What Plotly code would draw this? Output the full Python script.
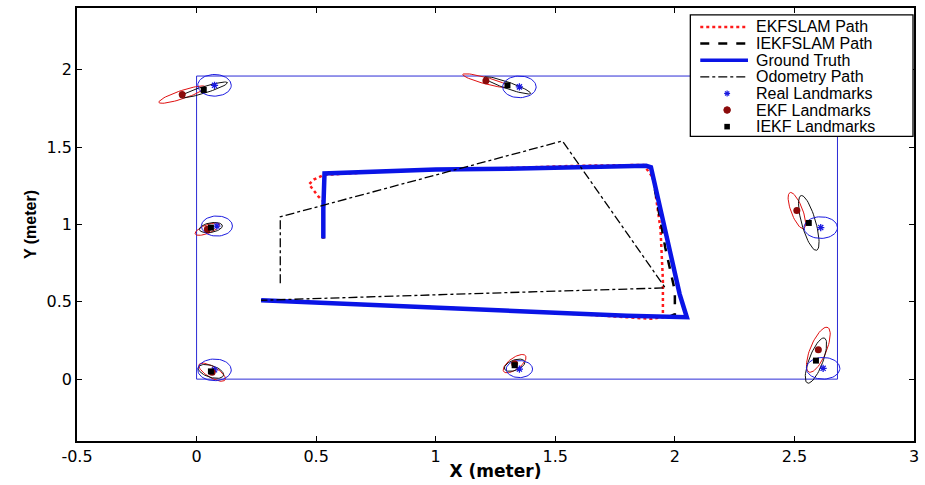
import numpy as np
import plotly.graph_objects as go

# ---- robot trajectories (meters) ----
gt_x = [0.53, 0.53, 0.535, 0.80, 1.00, 1.30, 1.60, 1.88, 1.90, 1.96, 2.02, 2.05, 1.80, 1.50, 1.20, 1.00, 0.70, 0.45, 0.27]
gt_y = [0.91, 1.10, 1.33, 1.345, 1.355, 1.36, 1.37, 1.38, 1.37, 0.95, 0.55, 0.40, 0.41, 0.43, 0.45, 0.465, 0.48, 0.50, 0.51]

ekf_x = [0.53, 0.53, 0.51, 0.47, 0.49, 0.53, 0.80, 1.00, 1.30, 1.60, 1.87, 1.91, 1.94, 1.95, 1.95, 1.90, 1.50, 1.20, 1.00, 0.70, 0.45, 0.27]
ekf_y = [0.91, 1.15, 1.18, 1.26, 1.29, 1.32, 1.345, 1.355, 1.365, 1.38, 1.385, 1.30, 0.97, 0.64, 0.40, 0.39, 0.43, 0.45, 0.465, 0.48, 0.50, 0.51]

iekf_x = [0.53, 0.53, 0.535, 0.80, 1.00, 1.30, 1.60, 1.88, 1.90, 1.96, 2.00, 2.00, 1.97, 1.50, 1.20, 1.00, 0.70, 0.45, 0.27]
iekf_y = [0.91, 1.10, 1.33, 1.345, 1.355, 1.36, 1.37, 1.38, 1.37, 0.85, 0.57, 0.42, 0.40, 0.43, 0.45, 0.465, 0.48, 0.50, 0.51]

odo_x = [0.35, 0.35, 1.53, 1.96, 1.20, 0.27]
odo_y = [0.62, 1.05, 1.54, 0.59, 0.555, 0.51]

# ---- arena boundary ----
arena_x = [0.0, 2.68, 2.68, 0.0, 0.0]
arena_y = [0.0, 0.0, 1.96, 1.96, 0.0]

# ---- landmarks ----
real_lx = [0.075, 1.35, 2.61, 2.62, 0.075, 1.35, 0.085]
real_ly = [1.90, 1.89, 0.98, 0.07, 0.06, 0.065, 0.99]
real_r = [0.07, 0.07, 0.07, 0.07, 0.07, 0.055, 0.065]

ekf_lx = [-0.06, 1.21, 2.51, 2.60, 0.065, 1.33, 0.045]
ekf_ly = [1.84, 1.93, 1.09, 0.19, 0.045, 0.10, 0.97]
ekf_a = [0.11, 0.105, 0.12, 0.15, 0.075, 0.07, 0.06]
ekf_b = [0.025, 0.02, 0.025, 0.035, 0.03, 0.03, 0.025]
ekf_ang = [28, -23, 103, 76, -47, 54, 35]

iekf_lx = [0.03, 1.30, 2.56, 2.59, 0.06, 1.33, 0.06]
iekf_ly = [1.87, 1.90, 1.01, 0.12, 0.05, 0.09, 0.98]
iekf_a = [0.11, 0.11, 0.18, 0.15, 0.06, 0.05, 0.05]
iekf_b = [0.02, 0.02, 0.03, 0.03, 0.035, 0.03, 0.03]
iekf_ang = [26, -29, 100, 77, -35, 40, 20]

x_ticks = [-0.5, 0, 0.5, 1, 1.5, 2, 2.5, 3]
x_tick_text = ["-0.5", "0", "0.5", "1", "1.5", "2", "2.5", "3"]
y_ticks = [0, 0.5, 1, 1.5, 2]
y_tick_text = ["0", "0.5", "1", "1.5", "2"]

legend_names = ["EKFSLAM Path", "IEKFSLAM Path", "Ground Truth", "Odometry Path",
                "Real Landmarks", "EKF Landmarks", "IEKF Landmarks"]

# ---- styles ----
BLUE = "#0a14e6"
EKF_LINE = dict(color="#ff1a1a", width=2.5, dash="dot")
IEKF_LINE = dict(color="black", width=2.5, dash="dash")
GT_LINE = dict(color=BLUE, width=4.5)
ODO_LINE = dict(color="black", width=1.3, dash="dashdot")
REAL_COLOR = "#1a1ae0"
EKF_MARK = "#8b0a0a"

# ---- figure geometry ----
W, H = 925, 485
ML, MR, MT, MB = 77, 6, 6, 44
PW, PH = W - ML - MR, H - MT - MB


def px_x(px):
    return (px - ML) / PW


def px_y(py):
    return (H - MB - py) / PH


def ellipse(cx, cy, a, b, ang_deg, n=60):
    t = np.linspace(0, 2 * np.pi, n)
    th = np.deg2rad(ang_deg)
    ex = a * np.cos(t)
    ey = b * np.sin(t)
    return cx + ex * np.cos(th) - ey * np.sin(th), cy + ex * np.sin(th) + ey * np.cos(th)


def ellipse_group(cxs, cys, As, Bs, angs):
    xs, ys = [], []
    for cx, cy, a, b, g in zip(cxs, cys, As, Bs, angs):
        ex, ey = ellipse(cx, cy, a, b, g)
        xs += list(ex) + [None]
        ys += list(ey) + [None]
    return xs, ys


fig = go.Figure()

# arena rectangle
fig.add_trace(go.Scatter(x=arena_x, y=arena_y, mode="lines",
                         line=dict(color="#2b2bd6", width=1), hoverinfo="skip"))

# covariance ellipses
ex, ey = ellipse_group(ekf_lx, ekf_ly, ekf_a, ekf_b, ekf_ang)
fig.add_trace(go.Scatter(x=ex, y=ey, mode="lines", line=dict(color="#e01010", width=1),
                         hoverinfo="skip"))
ix, iy = ellipse_group(iekf_lx, iekf_ly, iekf_a, iekf_b, iekf_ang)
fig.add_trace(go.Scatter(x=ix, y=iy, mode="lines", line=dict(color="#111111", width=1),
                         hoverinfo="skip"))
rx, ry = ellipse_group(real_lx, real_ly, real_r, real_r, [0] * len(real_r))
fig.add_trace(go.Scatter(x=rx, y=ry, mode="lines", line=dict(color=REAL_COLOR, width=1),
                         hoverinfo="skip"))

# paths
fig.add_trace(go.Scatter(x=ekf_x, y=ekf_y, mode="lines", name=legend_names[0], line=EKF_LINE))
fig.add_trace(go.Scatter(x=iekf_x, y=iekf_y, mode="lines", name=legend_names[1], line=IEKF_LINE))
fig.add_trace(go.Scatter(x=gt_x, y=gt_y, mode="lines", name=legend_names[2], line=GT_LINE))
fig.add_trace(go.Scatter(x=odo_x, y=odo_y, mode="lines", name=legend_names[3], line=ODO_LINE))

# landmark estimates
fig.add_trace(go.Scatter(x=real_lx, y=real_ly, mode="markers", name=legend_names[4],
                         marker=dict(symbol="asterisk-open", size=6, color=REAL_COLOR,
                                     line=dict(color=REAL_COLOR, width=1.3))))
fig.add_trace(go.Scatter(x=ekf_lx, y=ekf_ly, mode="markers", name=legend_names[5],
                         marker=dict(symbol="circle", size=7, color=EKF_MARK)))
fig.add_trace(go.Scatter(x=iekf_lx, y=iekf_ly, mode="markers", name=legend_names[6],
                         marker=dict(symbol="square", size=6, color="black")))

# ---- boxed legend in the upper-right corner ----
shapes = []
annotations = []
box_l, box_r, box_t, box_b = 694, 918, 13, 135
shapes.append(dict(type="rect", xref="paper", yref="paper",
                   x0=px_x(box_l), x1=px_x(box_r), y0=px_y(box_b), y1=px_y(box_t),
                   fillcolor="white", line=dict(color="black", width=1.3), layer="above"))
row0, row_step = 25, 16.7
key_l, key_r, key_c, text_x = 704, 752, 731, 758
line_styles = [EKF_LINE, IEKF_LINE, GT_LINE, ODO_LINE]
for i, name in enumerate(legend_names):
    ry_px = row0 + i * row_step
    yc = px_y(ry_px)
    if i < 4:
        st = line_styles[i]
        shapes.append(dict(type="line", xref="paper", yref="paper",
                           x0=px_x(key_l), x1=px_x(key_r), y0=yc, y1=yc,
                           line=dict(color=st["color"], width=min(st["width"], 3.5),
                                     dash=st.get("dash", "solid")),
                           layer="above"))
    elif i == 4:
        d = 3.0
        for dx, dy in [(d, 0), (0, d), (0.7 * d, 0.7 * d), (0.7 * d, -0.7 * d)]:
            shapes.append(dict(type="line", xref="paper", yref="paper",
                               x0=px_x(key_c - dx), x1=px_x(key_c + dx),
                               y0=px_y(ry_px - dy), y1=px_y(ry_px + dy),
                               line=dict(color=REAL_COLOR, width=1.2), layer="above"))
    elif i == 5:
        r = 3.3
        shapes.append(dict(type="circle", xref="paper", yref="paper",
                           x0=px_x(key_c - r), x1=px_x(key_c + r),
                           y0=px_y(ry_px + r), y1=px_y(ry_px - r),
                           fillcolor=EKF_MARK, line=dict(color=EKF_MARK, width=1), layer="above"))
    else:
        r = 2.8
        shapes.append(dict(type="rect", xref="paper", yref="paper",
                           x0=px_x(key_c - r), x1=px_x(key_c + r),
                           y0=px_y(ry_px + r), y1=px_y(ry_px - r),
                           fillcolor="black", line=dict(color="black", width=0), layer="above"))
    annotations.append(dict(xref="paper", yref="paper", x=px_x(text_x), y=yc,
                            xanchor="left", yanchor="middle", showarrow=False, text=name,
                            font=dict(family="Liberation Sans, Arial, sans-serif", size=16,
                                      color="black")))

tick_font = dict(family="DejaVu Sans, sans-serif", size=16, color="black")
axis_common = dict(showline=True, linecolor="black", linewidth=1.5, mirror="ticks",
                   ticks="inside", ticklen=5, tickwidth=1, tickcolor="black",
                   showgrid=False, zeroline=False, tickfont=tick_font)

fig.update_layout(
    width=W, height=H,
    margin=dict(l=ML, r=MR, t=MT, b=MB),
    paper_bgcolor="white", plot_bgcolor="white",
    font=dict(family="Liberation Sans, Arial, sans-serif", color="black"),
    showlegend=False,
    xaxis=dict(range=[-0.5, 3.0], tickvals=x_ticks, ticktext=x_tick_text,
               title=dict(text="X (meter)",
                          font=dict(family="DejaVu Sans, sans-serif", size=17, weight="bold"),
                          standoff=0),
               **axis_common),
    yaxis=dict(range=[-0.4, 2.4], tickvals=y_ticks, ticktext=y_tick_text,
               title=dict(text="Y (meter)",
                          font=dict(family="Liberation Sans, Arial, sans-serif", size=16, weight="bold"),
                          standoff=6),
               **axis_common),
    shapes=shapes,
    annotations=annotations,
)

fig.write_html("out.html")
